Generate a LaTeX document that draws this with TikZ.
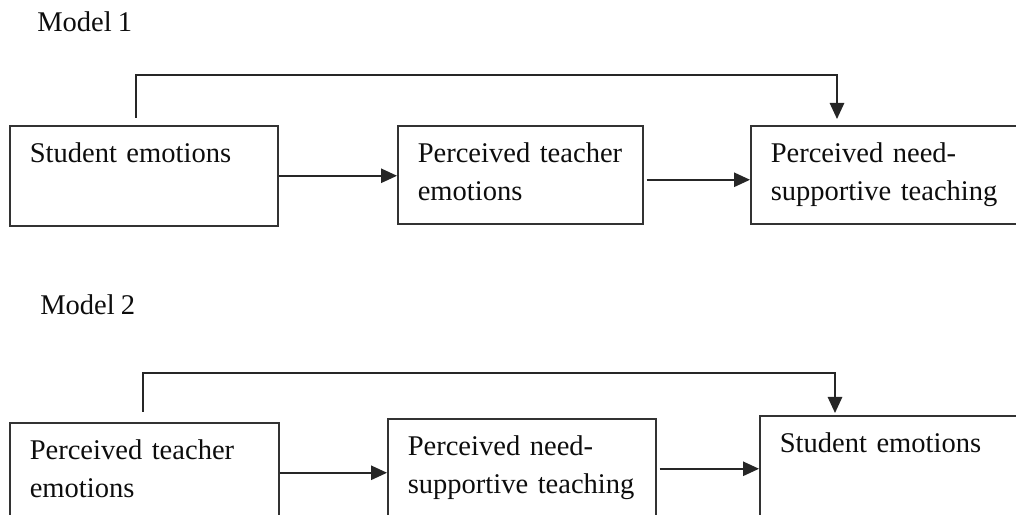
\documentclass[tikz,border=0pt]{standalone}
\usepackage{fontspec}
\setmainfont[WordSpace=0.85]{Liberation Serif}
\usetikzlibrary{positioning, arrows.meta}

\begin{document}
\begin{tikzpicture}\tikzset{>={Triangle[length=0.4cm, width=0.36cm]}, box/.style={draw=black!80, line width=1.1pt, anchor=north west, inner xsep=0.5cm, inner ysep=0pt, text height=0.925cm, align=left, text=black!95, font=\fontsize{20.3pt}{27pt}\selectfont}, title/.style={anchor=base west, inner sep=0pt, text=black!95, font=\fontsize{20.3pt}{27pt}\selectfont}, link/.style={->, draw=black!85, line width=1.1pt}}
	\useasboundingbox (0,0) rectangle (25.4,12.875);
	\clip (0,0) rectangle (25.4,12.875);
	% Model 1
	\node[title] (m1) at (0.925,12.075) {Model 1};
	\node[box, text width=5.7cm, text depth=1.575cm] (se1) at (0.225,9.75) {Student emotions};
	\node[box, text width=5.125cm, text depth=1.525cm] (pt1) at (9.925,9.75) {Perceived teacher\\emotions};
	\node[box, text width=5.75cm, text depth=1.525cm] (pn1) at (18.75,9.75) {Perceived need-\\supportive teaching};
	\coordinate (k1) at (3.4,11.0);
	\coordinate (k2) at (20.925,11.0);
	\draw[link, shorten <=0.175cm, shorten >=0.15cm] (k1 |- se1.north) -- (k1) -- (k2) -- (k2 |- pn1.north);
	\draw[link] (se1.east) -- (se1.east -| pt1.west);
	\draw[link, shorten <=0.075cm] ([yshift=-0.125cm]pt1.east) -- ([yshift=-0.125cm]pn1.west);
	% Model 2
	\node[title] (m2) at (1.0,5.0) {Model 2};
	\node[box, text width=5.725cm, text depth=1.575cm] (pt2) at (0.225,2.325) {Perceived teacher\\emotions};
	\node[box, text width=5.7cm, text depth=1.575cm] (pn2) at (9.675,2.425) {Perceived need-\\supportive teaching};
	\node[box, text width=5.75cm, text depth=1.575cm] (se2) at (18.975,2.5) {Student emotions};
	\coordinate (k3) at (3.575,3.55);
	\coordinate (k4) at (20.875,3.55);
	\draw[link, shorten <=0.25cm, shorten >=0.05cm] (k3 |- pt2.north) -- (k3) -- (k4) -- (k4 |- se2.north);
	\draw[link] (pt2.east) -- (pt2.east -| pn2.west);
	\draw[link, shorten <=0.075cm] (pn2.east) -- (pn2.east -| se2.west);
\end{tikzpicture}
\end{document}
